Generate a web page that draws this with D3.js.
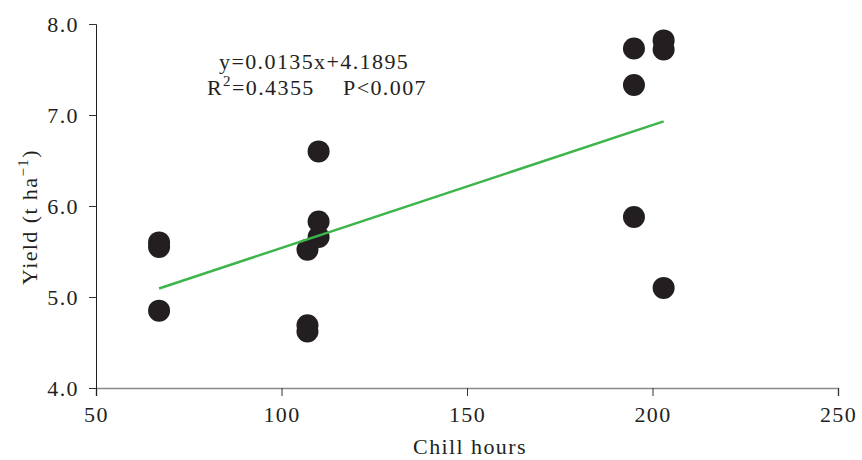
<!DOCTYPE html>
<html>
<head>
<meta charset="utf-8">
<script src="https://cdn.jsdelivr.net/npm/d3@7"></script>
<style>
  html, body { margin: 0; padding: 0; background: #fff; }
  text { font-family: "Liberation Serif", "Times New Roman", serif; fill: #231f20; }
</style>
</head>
<body>
<svg id="chart" width="862" height="460"></svg>
<script>
// Data
const chillHours = [67, 67, 67, 107, 107, 107, 110, 110, 110, 195, 195, 195, 203, 203, 203];
const yieldValues = [5.60, 5.55, 4.85, 5.52, 4.69, 4.62, 6.60, 5.83, 5.66, 7.73, 7.33, 5.88, 7.82, 7.72, 5.10];
const xTicks = [50, 100, 150, 200, 250];
const yTicks = [4.0, 5.0, 6.0, 7.0, 8.0];
const fitSlope = 0.0135;
const fitIntercept = 4.1895;
const fitRange = [67, 203];
const eqLine1 = "y=0.0135x+4.1895";
const eqR2 = "=0.4355";
const eqP = "P<0.007";
const xLabel = "Chill hours";

const svg = d3.select("#chart");
const x = d3.scaleLinear().domain([50, 250]).range([96, 838]);
const y = d3.scaleLinear().domain([4, 8]).range([388, 24]);

const fs = 22;
const ls = "1.4px";

// X axis
const gx = svg.append("g").attr("transform", `translate(0,${y(4)})`)
  .call(d3.axisBottom(x).tickValues(xTicks).tickSize(8).tickPadding(10).tickFormat(d3.format("d")));
gx.select(".domain").attr("stroke", "#8a8a8a").attr("stroke-width", 1.6);
gx.selectAll(".tick line").attr("stroke", "#333");
gx.selectAll(".tick text").attr("font-size", fs).style("letter-spacing", ls)
  .attr("font-family", "Liberation Serif").attr("fill", "#231f20");

// Y axis
const gy = svg.append("g").attr("transform", `translate(${x(50)},0)`)
  .call(d3.axisLeft(y).tickValues(yTicks).tickSize(7).tickPadding(10).tickFormat(d3.format(".1f")));
gy.select(".domain").attr("stroke", "#231f20").attr("stroke-width", 1);
gy.selectAll(".tick line").attr("stroke", "#333");
gy.selectAll(".tick text").attr("font-size", fs).style("letter-spacing", ls)
  .attr("font-family", "Liberation Serif").attr("fill", "#231f20");
gx.selectAll(".tick").filter(d => d === 50).select("line").attr("stroke", "#231f20");

// Points
const pts = chillHours.map((c, i) => ({ c, v: yieldValues[i] }));
svg.append("g").selectAll("circle").data(pts).join("circle")
  .attr("cx", d => x(d.c)).attr("cy", d => y(d.v)).attr("r", 11)
  .attr("fill", "#231f20");

// Trend line
const fit = fitRange.map(c => ({ c, v: fitSlope * c + fitIntercept }));
svg.append("path").datum(fit)
  .attr("d", d3.line().x(d => x(d.c)).y(d => y(d.v)))
  .attr("stroke", "#3db54a").attr("stroke-width", 2.5).attr("fill", "none");

// Annotation
svg.append("text").attr("x", 219).attr("y", 69).attr("font-size", fs)
  .style("letter-spacing", ls).text(eqLine1);
const t2 = svg.append("text").attr("x", 207).attr("y", 95).attr("font-size", fs).style("letter-spacing", ls);
t2.append("tspan").text("R");
t2.append("tspan").attr("font-size", 15).attr("dy", -9).text("2");
t2.append("tspan").attr("dy", 9).text(eqR2);
svg.append("text").attr("x", 343).attr("y", 95).attr("font-size", fs)
  .style("letter-spacing", ls).text(eqP);

// Axis labels
svg.append("text").attr("x", 470).attr("y", 454).attr("text-anchor", "middle")
  .attr("font-size", fs).style("letter-spacing", ls).text(xLabel);

const yl = svg.append("text").attr("transform", "translate(37,217) rotate(-90)")
  .attr("text-anchor", "middle").attr("font-size", fs).style("letter-spacing", ls);
yl.append("tspan").text("Yield (t ha");
yl.append("tspan").attr("font-size", 15).attr("dy", -9).text("−1");
yl.append("tspan").attr("dy", 9).text(")");
</script>
</body>
</html>
